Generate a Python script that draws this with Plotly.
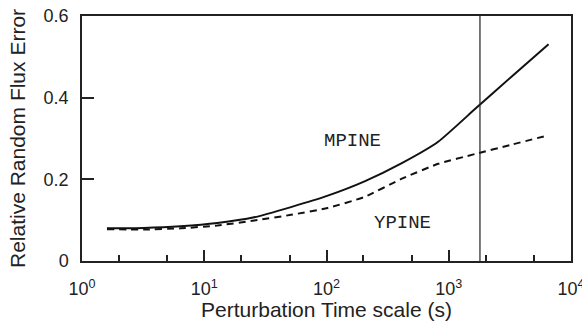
import math
import plotly.graph_objects as go

# Perturbation time scales (s)
time_scale = [1.6, 3.2, 6.4, 12.8, 25.6, 51.2, 102.4, 204.8, 409.6, 819.2, 1638.4, 3276.8, 6553.6]
mpine_error = [0.080, 0.081, 0.085, 0.093, 0.107, 0.132, 0.160, 0.195, 0.239, 0.292, 0.372, 0.452, 0.531]
ypine_error = [0.078, 0.077, 0.080, 0.087, 0.099, 0.113, 0.130, 0.157, 0.201, 0.238, 0.262, 0.285, 0.308]

threshold_time = 1800

x_tickvals = [1, 10, 100, 1000, 10000]
x_ticktext = ["10<sup>0</sup>", "10<sup>1</sup>", "10<sup>2</sup>", "10<sup>3</sup>", "10<sup>4</sup>"]
x_minorvals = [2, 5, 20, 50, 200, 500, 2000, 5000]
y_tickvals = [0, 0.2, 0.4, 0.6]
y_ticktext = ["0", "0.2", "0.4", "0.6"]

labels = [("MPINE", 162, 0.293), ("YPINE", 419, 0.094)]

FONT = "Liberation Sans, Arial, sans-serif"
MONO = "Liberation Mono, DejaVu Sans Mono, monospace"

fig = go.Figure()
fig.add_trace(go.Scatter(x=time_scale, y=mpine_error, mode="lines",
                         line=dict(color="#111111", width=2, shape="spline", smoothing=0.5),
                         showlegend=False))
fig.add_trace(go.Scatter(x=time_scale, y=ypine_error, mode="lines",
                         line=dict(color="#111111", width=2, dash="7px,5px", shape="spline", smoothing=0.5),
                         showlegend=False))

fig.add_shape(type="line", xref="x", yref="paper", x0=threshold_time, x1=threshold_time,
              y0=0, y1=1, line=dict(color="#222222", width=1.2))

for text, xv, yv in labels:
    fig.add_annotation(x=math.log10(xv), y=yv, xref="x", yref="y", text=text, showarrow=False,
                       font=dict(family=MONO, size=19, color="#222222"))

fig.update_layout(
    width=582, height=321,
    margin=dict(l=82, r=11, t=16, b=60),
    paper_bgcolor="white", plot_bgcolor="white",
    font=dict(family=FONT, color="#222222"),
)
fig.update_xaxes(
    type="log", range=[0, 4], automargin=False,
    tickmode="array", tickvals=x_tickvals, ticktext=x_ticktext,
    ticks="inside", ticklen=11, tickwidth=1.5, tickcolor="#222222",
    minor=dict(tickmode="array", tickvals=x_minorvals, ticks="inside", ticklen=6,
               tickwidth=1.5, tickcolor="#222222", showgrid=False),
    showline=True, linecolor="#222222", linewidth=1.5, mirror=True,
    showgrid=False, zeroline=False,
    ticklabelstandoff=11, ticklabeloverflow="allow",
    tickfont=dict(size=18, family=FONT, color="#222222"),
    title=dict(text="Perturbation Time scale (s)", font=dict(size=21, family=FONT, color="#222222"), standoff=6),
)
fig.update_yaxes(
    range=[0, 0.6], automargin=False,
    tickmode="array", tickvals=y_tickvals, ticktext=y_ticktext,
    ticks="inside", ticklen=12, tickwidth=1.5, tickcolor="#222222",
    showline=True, linecolor="#222222", linewidth=1.5, mirror=True,
    showgrid=False, zeroline=False,
    ticklabelstandoff=8, ticklabeloverflow="allow",
    tickfont=dict(size=18, family=FONT, color="#222222"),
    title=dict(text="Relative Random Flux Error", font=dict(size=21, family=FONT, color="#222222"), standoff=12),
)

fig.write_html("out.html")
